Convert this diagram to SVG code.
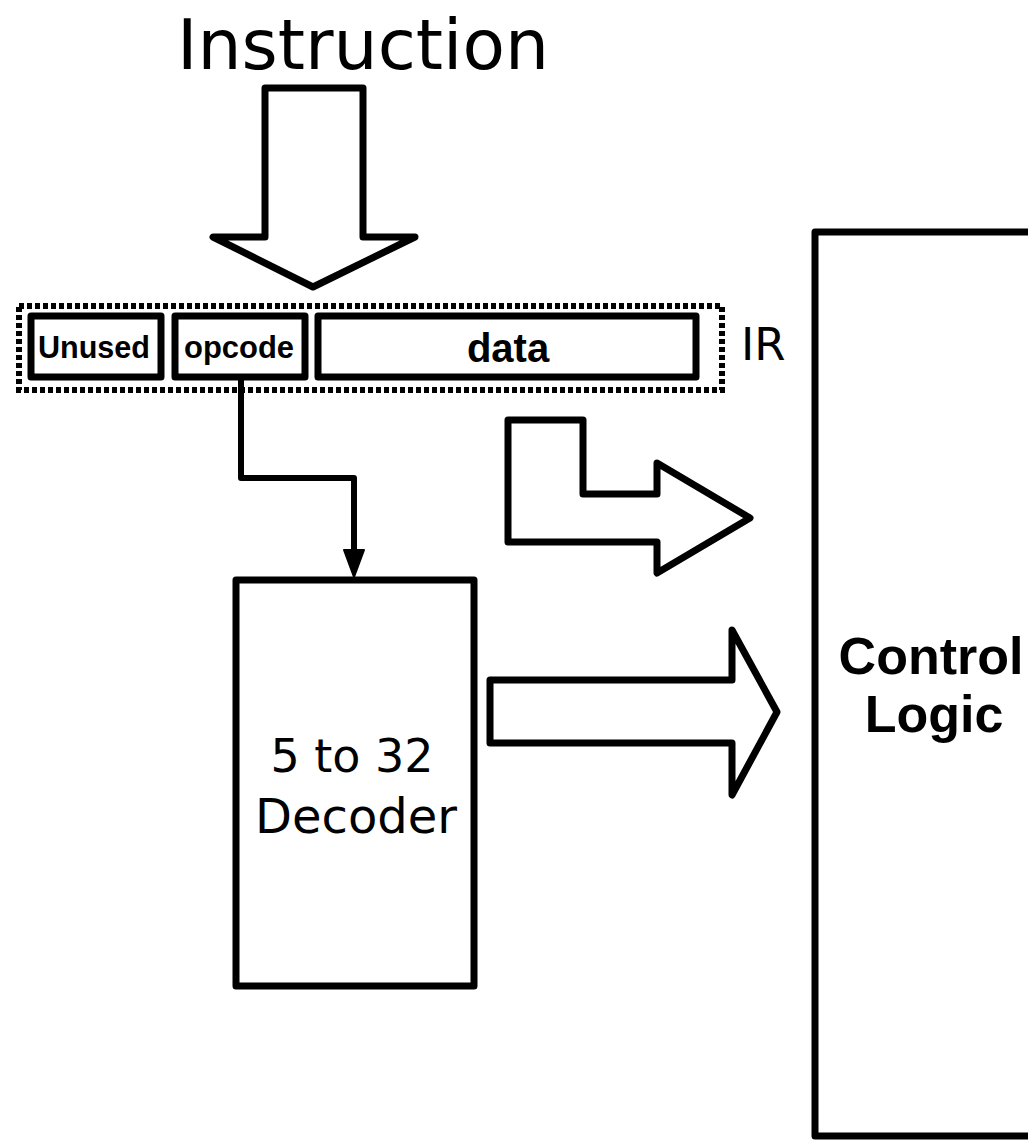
<svg xmlns="http://www.w3.org/2000/svg" width="1028" height="1140" viewBox="0 0 1028 1140">
<style>
.box{fill:#fff;stroke:#000;stroke-width:7;stroke-linejoin:round}
.big{fill:#fff;stroke:#000;stroke-width:7;stroke-linejoin:round}
.dj{font-family:"DejaVu Sans",sans-serif;fill:#000}
.lb{font-family:"Liberation Sans",Arial,sans-serif;font-weight:bold;fill:#000}
.wire{fill:none;stroke:#000;stroke-width:6;stroke-linejoin:round}
</style>
<rect width="1028" height="1140" fill="#fff"/>
<g id="title"><text class="dj" x="363" y="69" font-size="69" text-anchor="middle" textLength="372" lengthAdjust="spacingAndGlyphs">Instruction</text></g>
<g id="ir">
<rect x="19" y="306" width="703" height="84" fill="none" stroke="#000" stroke-width="6" stroke-dasharray="5 3"/>
<text class="dj" x="741" y="360" font-size="45">IR</text>
</g>
<g id="unused"><rect class="box" x="31" y="316" width="130" height="61"/><text class="lb" x="38" y="358" font-size="31" textLength="112" lengthAdjust="spacingAndGlyphs">Unused</text></g>
<g id="opcode"><rect class="box" x="175" y="316" width="130" height="61"/><text class="lb" x="184" y="358" font-size="31" textLength="110" lengthAdjust="spacingAndGlyphs">opcode</text></g>
<g id="data"><rect class="box" x="318" y="316" width="378" height="61"/><text class="lb" x="508" y="362" font-size="40" text-anchor="middle">data</text></g>
<g id="decoder"><rect class="box" x="236" y="580" width="238" height="406"/>
<text class="dj" x="352" y="772" font-size="46" text-anchor="middle">5 to 32</text>
<text class="dj" x="356" y="833" font-size="48" text-anchor="middle">Decoder</text></g>
<g id="control"><rect class="box" x="815" y="232" width="300" height="904"/>
<text class="lb" x="931" y="674" font-size="52" text-anchor="middle">Control</text>
<text class="lb" x="934" y="732" font-size="52" text-anchor="middle">Logic</text></g>
<g id="connectors">
<path class="big" d="M265,88 H363 V237 H415 L313,287 L213,237 H265 Z"/>
<path class="wire" d="M241,380 V478 H354 V552"/>
<path d="M344,550 H364 L354,577 Z" fill="#000" stroke="#000" stroke-width="2" stroke-linejoin="round"/>
<path class="big" d="M508,420 H583 V494 H657 V463 L750,518 L657,573 V542 H508 Z"/>
<path class="big" d="M490,680 H732 V630 L777,712 L732,795 V743 H490 Z"/>
</g>
</svg>
